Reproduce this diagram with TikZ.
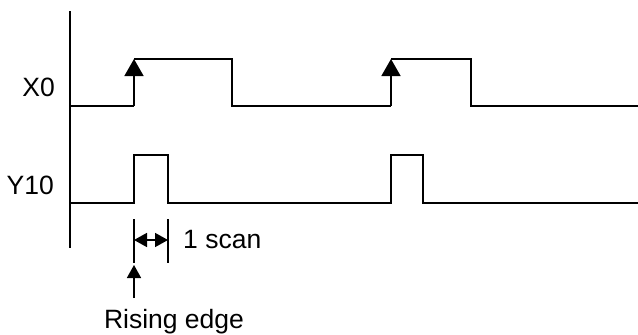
\documentclass[tikz,border=0pt]{standalone}
\usepackage{fontspec}
\setmainfont{Liberation Sans}
\usetikzlibrary{arrows.meta}

\tikzset{
  wave/.style={line width=1.6pt, line join=miter},
  edgetip/.style={-{Triangle[width=19pt,length=17pt]}},
  label/.style={font=\fontsize{26.5}{30}\selectfont, inner sep=0pt}
}

\begin{document}
\begin{tikzpicture}[x=1pt, y=-1pt]
  \useasboundingbox (0,0) rectangle (638,335);

  % Time axis
  \draw[wave] (70,11) -- (70,248);

  % Signal names
  \node[label, anchor=east] (x0) at (55,87) {X0};
  \node[label, anchor=east] (y10) at (54,185) {Y10};

  % Input X0 with rising edges
  \coordinate (r1) at (134,59);
  \coordinate (r2) at (391,59);
  \draw[wave] (70,106) -- (134,106);
  \draw[wave, edgetip] (134,106) -- (r1);
  \draw[wave] (r1) -- (232,59) -- (232,106) -- (391,106);
  \draw[wave, edgetip] (391,106) -- (r2);
  \draw[wave] (r2) -- (471,59) -- (471,106) -- (638,106);

  % Output Y10, one scan pulses
  \draw[wave] (70,203) -- (134,203) -- (134,155) -- (168,155) -- (168,203)
    -- (391,203) -- (391,155) -- (423,155) -- (423,203) -- (638,203);

  % Scan width
  \coordinate (t1) at (134,240);
  \coordinate (t2) at (168,240);
  \draw[wave] (134,219) -- (134,263);
  \draw[wave] (168,219) -- (168,263);
  \draw[wave, {Triangle[width=14pt,length=13pt]}-{Triangle[width=14pt,length=13pt]}] (t1) -- (t2);
  \node[label, anchor=west] (scan) at (183,240) {1 scan};

  % Rising edge pointer
  \node[label] (rise) at (174,322) {Rising edge};
  \coordinate (edge) at (134,265);
  \draw[wave, -{Triangle[width=14pt,length=13pt]}] (134,298) -- (edge);
\end{tikzpicture}
\end{document}
